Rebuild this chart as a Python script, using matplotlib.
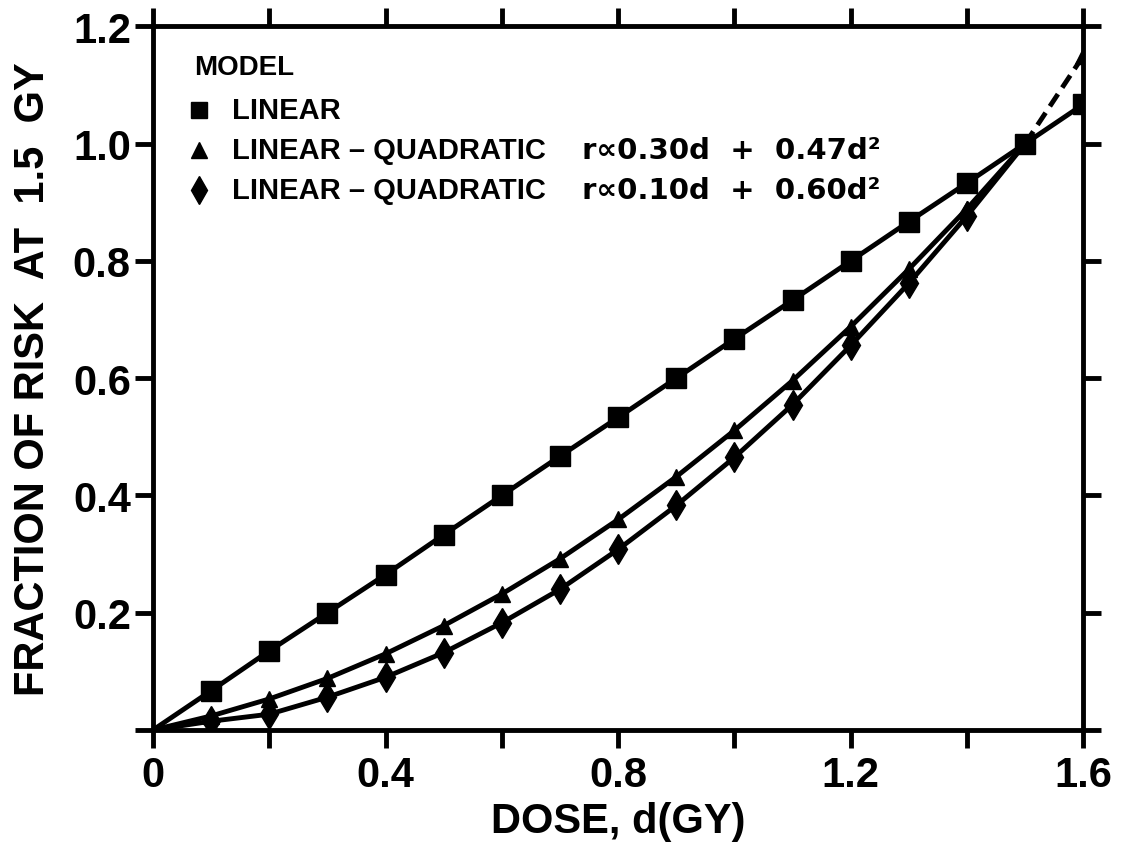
import matplotlib
matplotlib.use("Agg")
import matplotlib.pyplot as plt
from matplotlib.ticker import FixedLocator, FixedFormatter

plt.rcParams['font.family'] = ['Liberation Sans', 'DejaVu Sans']
plt.rcParams['font.weight'] = 'bold'
plt.rcParams['axes.labelweight'] = 'bold'

# dose values (GY)
dose = [0.0, 0.1, 0.2, 0.3, 0.4, 0.5, 0.6, 0.7, 0.8, 0.9, 1.0, 1.1, 1.2, 1.3, 1.4, 1.5, 1.6]
# linear model
linear = [0.0, 0.067, 0.135, 0.200, 0.265, 0.333, 0.400, 0.467, 0.533, 0.600,
          0.667, 0.733, 0.800, 0.867, 0.933, 1.000, 1.067]
# linear-quadratic, r ~ 0.30d + 0.47d^2 (up to 1.5 GY)
lq1 = [0.0, 0.024, 0.053, 0.088, 0.130, 0.178, 0.232, 0.292, 0.359, 0.432,
       0.511, 0.596, 0.688, 0.786, 0.889, 1.000]
# linear-quadratic, r ~ 0.10d + 0.60d^2 (up to 1.5 GY)
lq2 = [0.0, 0.015, 0.027, 0.056, 0.090, 0.132, 0.183, 0.240, 0.308, 0.383,
       0.465, 0.555, 0.656, 0.762, 0.877, 1.000]
# dashed extrapolation beyond 1.5 GY
extra_dose = [1.5, 1.6]
extra_val = [1.0, 1.15]

x_ticks = [0, 0.2, 0.4, 0.6, 0.8, 1.0, 1.2, 1.4, 1.6]
x_tick_labels = ["0", "", "0.4", "", "0.8", "", "1.2", "", "1.6"]
y_ticks = [0, 0.2, 0.4, 0.6, 0.8, 1.0, 1.2]
y_tick_labels = ["", "0.2", "0.4", "0.6", "0.8", "1.0", "1.2"]

fig = plt.figure(figsize=(11.25, 8.53), dpi=100)
ax = fig.add_axes([0.136, 0.143, 0.827, 0.825])

lw = 3.5
ax.plot(dose, linear, color="black", lw=lw, marker="s", ms=15,
        markevery=list(range(1, 17)), zorder=3)
ax.plot(dose[:16], lq1, color="black", lw=lw, marker="^", ms=12,
        markevery=list(range(1, 15)), zorder=3)
ax.plot(dose[:16], lq2, color="black", lw=lw, marker="d", ms=15,
        markevery=list(range(1, 15)), zorder=3)
ax.plot(extra_dose, extra_val, color="black", lw=lw, ls=(0, (3, 1.6)),
        marker="^", ms=12, markevery=[1], zorder=3)

ax.set_xlim(0, 1.6)
ax.set_ylim(0, 1.2)

ax.xaxis.set_major_locator(FixedLocator(x_ticks))
ax.xaxis.set_major_formatter(FixedFormatter(x_tick_labels))
ax.yaxis.set_major_locator(FixedLocator(y_ticks))
ax.yaxis.set_major_formatter(FixedFormatter(y_tick_labels))
ax.tick_params(direction="out", length=13, width=3.5, labelsize=30,
               top=True, right=True)
ax.tick_params(axis="x", pad=5)
ax.tick_params(axis="y", pad=3)

for s in ax.spines.values():
    s.set_linewidth(3.5)

ax.set_xlabel("DOSE, d(GY)", fontsize=30, labelpad=4)
ax.set_ylabel("FRACTION OF RISK  AT  1.5  GY", fontsize=30, labelpad=14)

# legend drawn by hand
fs = 21
ax.text(0.044, 0.942, "MODEL", transform=ax.transAxes, fontsize=20, va="center")
rows = [0.881, 0.824, 0.768]
names = ["LINEAR", "LINEAR – QUADRATIC", "LINEAR – QUADRATIC"]
marks = ["s", "^", "d"]
sizes = [12, 11, 14]
formulas = ["", "r\u221d0.30d  +  0.47d\u00b2", "r\u221d0.10d  +  0.60d\u00b2"]
for yy, nm, mk, sz, fm in zip(rows, names, marks, sizes, formulas):
    ax.plot([0.049], [yy], transform=ax.transAxes, marker=mk, ms=sz,
            color="black", ls="none")
    ax.text(0.085, yy, nm, transform=ax.transAxes, fontsize=fs, va="center")
    if fm:
        ax.text(0.461, yy, fm, transform=ax.transAxes, fontsize=fs, va="center",
                family=["DejaVu Sans"])

fig.savefig("out.png", dpi=100)
